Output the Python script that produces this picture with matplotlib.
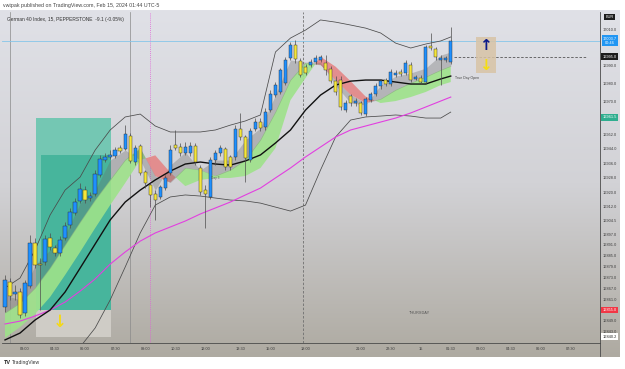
import numpy as np
import matplotlib.pyplot as plt
from matplotlib.patches import Rectangle
from matplotlib.colors import LinearSegmentedColormap

plt.rcParams['font.family'] = ['Liberation Sans', 'DejaVu Sans']

# 15-minute candles, German 40 Index
opens = [16856.7, 16870.5, 16863.9, 16865.0, 16853.4, 16868.3, 16892.0, 16880.4, 16881.5, 16894.8,
         16889.3, 16886.5, 16894.8, 16902.0, 16908.6, 16915.3, 16921.3, 16916.9, 16919.1, 16929.6,
         16937.9, 16939.6, 16940.1, 16944.5, 16944.0, 16951.2, 16936.8, 16945.6, 16931.3, 16924.1,
         16919.1, 16917.5, 16922.4, 16930.7, 16946.2, 16945.1, 16941.8, 16941.8, 16945.6, 16933.5,
         16921.3, 16917.5, 16937.9, 16941.8, 16944.0, 16939.6, 16939.6, 16955.0, 16950.6, 16937.9,
         16955.0, 16958.9, 16956.1, 16965.5, 16973.8, 16975.5, 16980.4, 16994.3, 17001.4, 16992.6,
         16989.3, 16990.4, 16992.0, 16993.2, 16991.5, 16988.2, 16981.5, 16982.1, 16965.5, 16973.3,
         16969.4, 16969.4, 16963.3, 16971.0, 16974.4, 16978.8, 16982.1, 16979.9, 16984.9, 16986.5,
         16986.0, 16990.4, 16982.7, 16983.2, 16981.0, 17000.9, 16999.2, 16993.2, 16993.2, 16992.0]
closes = [16871.6, 16862.8, 16865.0, 16852.3, 16869.9, 16892.0, 16879.9, 16879.9, 16894.3, 16889.8,
          16886.5, 16893.7, 16901.4, 16909.2, 16914.7, 16921.9, 16915.8, 16918.0, 16930.2, 16938.5,
          16939.6, 16940.7, 16943.4, 16942.9, 16952.3, 16937.4, 16944.5, 16930.7, 16925.2, 16918.6,
          16915.8, 16923.0, 16928.0, 16943.4, 16944.5, 16941.8, 16945.1, 16945.6, 16936.8, 16920.2,
          16919.1, 16937.9, 16941.8, 16944.5, 16934.0, 16934.0, 16955.0, 16950.6, 16939.0, 16953.9,
          16958.9, 16955.6, 16964.4, 16974.4, 16979.3, 16987.6, 16993.2, 17001.4, 16993.7, 16984.9,
          16986.0, 16992.0, 16994.3, 16994.8, 16987.6, 16981.5, 16975.5, 16967.2, 16969.4, 16969.4,
          16970.5, 16963.9, 16971.6, 16974.4, 16978.8, 16981.5, 16979.9, 16986.5, 16986.0, 16985.4,
          16991.5, 16982.1, 16983.8, 16981.0, 17000.3, 16999.8, 16994.8, 16994.3, 16994.3, 17003.7]
highs = [16874.4, 16872.7, 16868.8, 16867.2, 16871.6, 16896.5, 16894.8, 16883.8, 16896.5, 16897.6,
         16890.9, 16895.9, 16903.6, 16911.4, 16916.9, 16925.2, 16923.5, 16920.2, 16932.4, 16940.7,
         16941.8, 16943.4, 16945.1, 16946.2, 16957.2, 16952.8, 16946.2, 16946.7, 16932.4, 16925.2,
         16921.3, 16924.1, 16929.6, 16946.2, 16954.5, 16947.3, 16947.8, 16947.8, 16947.3, 16935.1,
         16924.1, 16939.6, 16943.4, 16946.2, 16945.1, 16940.7, 16957.2, 16963.9, 16951.7, 16955.6,
         16961.1, 16961.1, 16966.6, 16976.6, 16981.0, 16988.7, 16994.8, 17003.1, 17004.2, 16994.3,
         16990.9, 16993.7, 16995.9, 16995.9, 16995.9, 16989.8, 16984.3, 16984.3, 16971.0, 16974.4,
         16972.2, 16970.5, 16972.7, 16975.5, 16980.4, 16982.7, 16983.2, 16988.2, 16987.6, 16988.2,
         16993.2, 16992.0, 16984.9, 16984.9, 17001.4, 17008.1, 17000.3, 16995.9, 16995.4, 17011.4]
lows = [16853.9, 16860.6, 16860.6, 16850.6, 16851.7, 16867.2, 16878.2, 16855.0, 16879.9, 16888.2,
        16884.9, 16884.9, 16893.7, 16900.3, 16907.5, 16914.1, 16914.1, 16915.3, 16918.0, 16928.5,
        16936.8, 16938.5, 16939.0, 16941.8, 16943.4, 16936.2, 16935.1, 16929.6, 16922.4, 16911.9,
        16904.8, 16916.4, 16921.3, 16929.6, 16943.4, 16940.1, 16940.7, 16940.1, 16935.1, 16918.6,
        16900.3, 16916.4, 16935.1, 16940.1, 16932.4, 16932.4, 16937.9, 16949.0, 16925.7, 16936.8,
        16953.9, 16953.9, 16954.5, 16964.4, 16972.7, 16974.4, 16979.3, 16993.2, 16991.5, 16983.8,
        16984.9, 16989.3, 16990.9, 16992.0, 16984.9, 16980.4, 16973.8, 16965.5, 16964.4, 16967.7,
        16967.7, 16962.8, 16962.2, 16969.9, 16973.3, 16977.1, 16978.8, 16978.8, 16983.8, 16984.3,
        16984.9, 16981.0, 16982.1, 16979.9, 16979.9, 16998.7, 16993.2, 16979.3, 16992.0, 16990.9]

# indicator readings, every third bar
ind_bars = list(range(0, 88, 3)) + [89]
ema_slow_black = [16838.5, 16842.3, 16849.5, 16855.0, 16865.0, 16878.2, 16891.5, 16904.8, 16914.7, 16921.3,
                  16926.9, 16931.8, 16935.7, 16936.8, 16935.7, 16935.1, 16937.4, 16940.7, 16947.3, 16954.5,
                  16965.5, 16973.8, 16979.3, 16981.5, 16982.1, 16982.1, 16981.0, 16979.9, 16979.9, 16982.7,
                  16984.3]
ema_long_magenta = [16847.3, 16848.9, 16851.7, 16855.0, 16859.4, 16865.5, 16872.2, 16880.4, 16887.1, 16893.1,
                    16897.6, 16900.9, 16904.2, 16908.1, 16911.4, 16914.7, 16918.6, 16922.4, 16928.0, 16933.5,
                    16939.6, 16945.1, 16950.6, 16954.5, 16956.7, 16958.9, 16961.1, 16963.9, 16967.2, 16970.5,
                    16972.7]
band_upper = [16867.2, 16872.7, 16888.2, 16907.5, 16921.3, 16928.5, 16943.4, 16954.5, 16961.7, 16963.3,
              16956.7, 16953.4, 16953.4, 16953.4, 16954.5, 16957.2, 16959.5, 16962.8, 16997.6, 17005.3,
              17009.7, 17015.3, 17014.1, 17012.5, 17010.8, 17008.1, 17002.5, 16999.8, 17002.0, 17003.7,
              17005.9]
band_lower = [16794.3, 16802.5, 16810.8, 16819.1, 16827.4, 16834.6, 16845.1, 16860.6, 16878.8, 16897.6,
              16913.0, 16917.5, 16918.6, 16918.0, 16916.9, 16915.8, 16915.3, 16914.1, 16911.9, 16909.7,
              16913.0, 16932.4, 16950.6, 16960.0, 16961.7, 16962.2, 16962.8, 16962.2, 16961.1, 16961.1,
              16964.4]
ribbon_fast = [16853.4, 16858.9, 16867.2, 16878.2, 16890.9, 16903.6, 16915.8, 16926.9, 16937.9, 16944.5,
               16929.0, 16925.5, 16933.5, 16932.4, 16929.1, 16932.4, 16937.9, 16949.0, 16964.4, 16982.1,
               16991.5, 16990.5, 16982.0, 16974.0, 16969.4, 16971.6, 16976.6, 16980.4, 16983.8, 16987.6,
               16989.8]
ribbon_slow = [16839.6, 16845.6, 16852.8, 16862.2, 16874.4, 16887.1, 16900.3, 16913.0, 16925.2, 16937.9,
               16940.5, 16931.0, 16923.5, 16926.9, 16928.0, 16928.0, 16929.1, 16933.5, 16944.5, 16971.0,
               16983.2, 16995.0, 16989.5, 16981.5, 16973.0, 16969.4, 16970.5, 16972.7, 16975.5, 16979.3,
               16981.0]
cloud_edge = [16863.3, 16860.6, 16879.9, 16888.2, 16896.5, 16914.1, 16921.3, 16937.9, 16943.4, 16937.9,
              16921.3, 16935.1, 16942.3, 16932.4, 16937.9, 16937.9, 16949.0, 16955.6, 16973.8, 16993.2,
              16992.0, 16992.0, 16979.3, 16969.4, 16968.3, 16979.3, 16984.3, 16986.0, 16988.7, 16995.9,
              16997.6]

# axes labels
time_ticks = [4, 10, 16, 22, 28, 34, 40, 47, 53, 60, 71, 77, 83, 89, 95, 101, 107, 113]
time_labels = ['03:00', '04:30', '06:00', '07:30', '09:00', '10:30', '12:00', '13:30', '15:00',
               '18:00', '21:00', '22:30', '15', '01:30', '03:00', '04:30', '06:00', '07:30']
price_ticks = [17010.0, 16990.0, 16980.0, 16970.0, 16952.0, 16944.0, 16936.0, 16928.0, 16920.0,
               16912.0, 16904.5, 16897.0, 16891.0, 16885.0, 16879.0, 16873.0, 16867.0, 16861.0,
               16849.0, 16843.0]
last_price = 17003.7
day_open = 16995.0

fig = plt.figure(figsize=(6.25, 3.69), dpi=100)

# background in pixel coordinates
bg = fig.add_axes([0, 0, 1, 1], zorder=0)
bg.set_xlim(0, 625)
bg.set_ylim(369, 0)
bg.axis('off')
grad = np.linspace(0, 1, 256).reshape(-1, 1)
cmap = LinearSegmentedColormap.from_list('bg', ['#e0e1e7', '#d2d2d6', '#aeaaa1'])
bg.imshow(grad, cmap=cmap, extent=[0, 620, 357, 10], aspect='auto')
bg.plot([600, 600], [343, 356], color='#4a4a4a', lw=0.6)
bg.text(3, 5, 'vwtpak published on TradingView.com, Feb 15, 2024 01:44 UTC-5',
        fontsize=3.8, color='#444444', va='center')
bg.text(7, 19.5, 'German 40 Index, 15, PEPPERSTONE  -9.1 (-0.05%)',
        fontsize=3.5, color='#333333', va='center')
bg.text(4, 362.5, 'TV', fontsize=4, fontweight='bold', color='#222222', va='center')
bg.text(12, 362.5, 'TradingView', fontsize=3.6, color='#333333', va='center')

ax = fig.add_axes([2 / 625, 26 / 369, 598 / 625, 331 / 369], zorder=1)
ax.set_facecolor('none')
ax.set_xlim(-0.6, 118.8)
ax.set_ylim(16836.8, 17019.7)

# position tool
ax.add_patch(Rectangle((6.2, 16855.0), 15.0, 16961.1 - 16855.0, fc='#74c7b3', ec='none', zorder=1.1))
ax.add_patch(Rectangle((7.2, 16855.0), 14.0, 16940.7 - 16855.0, fc='#47b59c', ec='none', zorder=1.2))
ax.add_patch(Rectangle((6.2, 16840.1), 15.0, 16855.0 - 16840.1, fc='#cfccc6', ec='none', zorder=1.1))
ax.text(11, 16848.4, '\u2193', family='DejaVu Sans', fontsize=12, fontweight='bold',
        color='#f3d81c', ha='center', va='center', zorder=6)

# session lines
ax.axvline(1, color='#8a8a8a', lw=0.5, zorder=1)
ax.axvline(25, color='#8a8a8a', lw=0.5, zorder=1)
ax.axvline(59.5, color='#6f6f6f', lw=0.6, ls=(0, (3, 2)), zorder=1)
ax.axvline(29, color='#e060d8', lw=0.6, ls=(0, (1, 1.5)), zorder=1)
ax.axhline(last_price, color='#86c5ea', lw=0.6, zorder=1.5)
ax.hlines(day_open, 89.6, 116, color='#555555', lw=0.6, ls=(0, (3, 2)), zorder=1.5)

# ribbons
xb = np.array(ind_bars)
fast = np.array(ribbon_fast)
slow = np.array(ribbon_slow)
ax.fill_between(xb, fast, slow, where=fast >= slow, interpolate=True,
                color='#9ee28a', alpha=0.9, lw=0, zorder=2)
ax.fill_between(xb, fast, slow, where=fast < slow, interpolate=True,
                color='#e48686', alpha=0.9, lw=0, zorder=2)
ax.fill_between(xb, cloud_edge, fast, color='#6a6a6a', alpha=0.33, lw=0, zorder=2.1)

# lines
ax.plot(xb, band_upper, color='#4a4a4a', lw=0.55, zorder=3)
ax.plot(xb, band_lower, color='#4a4a4a', lw=0.55, zorder=3)
ax.plot(xb, ema_long_magenta, color='#e23fe0', lw=0.8, zorder=3)
ax.plot(xb, ema_slow_black, color='#111111', lw=1.0, zorder=3)

# candles
o = np.array(opens)
c = np.array(closes)
h = np.array(highs)
l = np.array(lows)
x = np.arange(len(o))
cols = np.where(c >= o, '#1e90ff', '#f5e63b')
ax.vlines(x, l, h, color='#4d4d4d', lw=0.5, zorder=4)
ax.bar(x, np.maximum(np.abs(c - o), 0.45), bottom=np.minimum(o, c), width=0.68,
       color=cols, edgecolor='#2a2a2a', linewidth=0.3, zorder=5)

# arrow box
ax.add_patch(Rectangle((94.0, 16986.0), 4.0, 19.9, fc='#d8c4a6', alpha=0.85, ec='none', zorder=3))
ax.text(96, 17001.3, '\u2191', family='DejaVu Sans', fontsize=11, fontweight='bold',
        color='#0b1a8a', ha='center', va='center', zorder=6)
ax.text(96, 16990.2, '\u2193', family='DejaVu Sans', fontsize=11, fontweight='bold',
        color='#f5dd10', ha='center', va='center', zorder=6)

ax.text(89.8, 16983.2, 'True Day Open', fontsize=2.5, color='#444444', va='center', zorder=6)
ax.text(82.8, 16853.4, 'THURSDAY', fontsize=2.8, color='#555555', ha='center', va='center', zorder=6)
ax.text(41.9, 16928.0, 'Day 3', fontsize=2.3, color='#555555', ha='center', va='center', zorder=6)

# axes styling
ax.set_xticks(time_ticks)
ax.set_xticklabels(time_labels)
ax.yaxis.tick_right()
ax.set_yticks(price_ticks)
ax.set_yticklabels([f'{v:.1f}' for v in price_ticks])
ax.tick_params(axis='x', length=0, pad=3, labelsize=2.8, colors='#3a3a3a')
ax.tick_params(axis='y', length=0, pad=2.2, labelsize=2.8, colors='#3a3a3a')
for side in ['left', 'top']:
    ax.spines[side].set_visible(False)
for side in ['right', 'bottom']:
    ax.spines[side].set_color('#4a4a4a')
    ax.spines[side].set_linewidth(0.6)

# price axis labels
ytr = ax.get_yaxis_transform()
boxes = [(17016.9, 'EUR', '#1c1c1c', 'white'),
         (last_price, '17003.7\n00:46', '#2196f3', 'white'),
         (day_open, '16995.0', '#1c1c1c', 'white'),
         (16961.5, '16961.5', '#2fae8f', 'white'),
         (16855.0, '16855.0', '#f23645', 'white'),
         (16840.2, '16840.2', '#ffffff', '#222222')]
for val, txt, fc, tc in boxes:
    ax.text(1.0165, val, txt, transform=ytr, fontsize=2.8, color=tc, ha='center', va='center',
            linespacing=1.1, clip_on=False, zorder=7,
            bbox=dict(boxstyle='square,pad=0.35', fc=fc, ec='none'))

fig.savefig('out.png', dpi=100)
